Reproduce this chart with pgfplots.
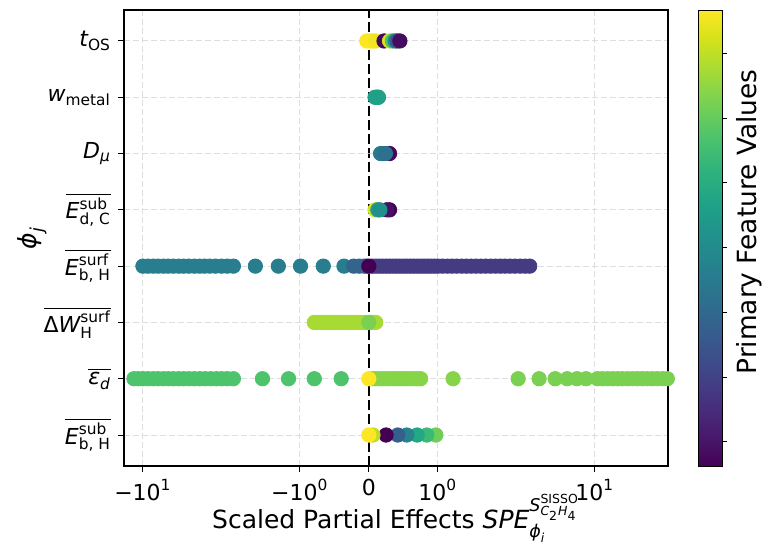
\documentclass[border=0pt]{standalone}
\usepackage{fontspec}
\setmainfont{DejaVu Sans}
\usepackage{amsmath}
\usepackage{pgfplots}
\pgfplotsset{compat=1.18}

\definecolor{gridc}{RGB}{211,211,211}
\newcommand{\vi}[1]{\text{\itshape #1}}
\newcommand{\vu}[1]{\text{#1}}

\pgfplotsset{
  dots/.style={scatter, only marks, mark=*, mark size=3.6pt,
    point meta=explicit,
    scatter/use mapped color={draw=mapped color, fill=mapped color}},
}

\begin{document}
\begin{tikzpicture}
\begin{axis}[
  name=ax, at={(0,0)}, anchor=south west,
  scale only axis, width=272pt, height=228pt,
  % symlog-like x axis, linear inside [-1,1]
  x coord trafo/.code={\pgfmathparse{0.44*min(max(#1,-1),1)+0.4342945*ln(max(#1,1))-0.4342945*ln(max(-(#1),1))}},
  x coord inv trafo/.code={\pgfmathparse{min(max(#1,-0.44),0.44)/0.44+exp(2.302585*(max(#1,0.44)-0.44))-exp(2.302585*(max(-(#1),0.44)-0.44))}},
  xmin=-13.2, xmax=29.3, ymin=-0.55, ymax=7.55,
  xtick={-10,-1,1,10},
  xticklabels={$\vu{−}\vu{10}^{\vu{1}}$, $\vu{−}\vu{10}^{\vu{0}}$, $\vu{10}^{\vu{0}}$, $\vu{10}^{\vu{1}}$},
  extra x ticks={0}, extra x tick labels={$\vu{0}$},
  extra x tick style={grid=none},
  ytick={0,1,2,3,4,5,6,7},
  yticklabels={
    {$\overline{\vi{E}^{\vu{sub}}_{\vu{b, H}}}$},
    {$\overline{\vi{ε}_{\vi{d}}}$},
    {$\overline{\vu{Δ}\vi{W}^{\vu{surf}}_{\vu{H}}}$},
    {$\overline{\vi{E}^{\vu{surf}}_{\vu{b, H}}}$},
    {$\overline{\vi{E}^{\vu{sub}}_{\vu{d, C}}}$},
    {$\vi{D}_{\vi{μ}}$},
    {$\vi{w}_{\vu{metal}}$},
    {$\vi{t}_{\vu{OS}}$}},
  tick pos=left, tick align=outside, major tick length=3pt,
  tick style={black, line width=0.5pt},
  axis line style={black, line width=0.6pt},
  grid=major,
  major grid style={draw=gridc, opacity=0.75, line width=0.5pt, dash pattern=on 3pt off 1.5pt},
  axis on top,
  tick label style={font=\fontsize{11}{13}\selectfont},
  label style={font=\fontsize{12.5}{15}\selectfont},
  xlabel={Scaled Partial Effects $\vi{SPE}_{\vi{ϕ}_{\vi{i}}}^{\vi{S}^{\vu{SISSO}}_{\vi{C}_{\vu{2}}\vi{H}_{\vu{4}}}}$},
  xlabel style={at={(axis description cs:0.5,0)}, anchor=base, yshift=-31.5pt},
  ylabel={$\vi{ϕ}_{\vi{j}}$},
  ylabel style={at={(axis description cs:0,0.5)}, anchor=center, yshift=46pt},
  colormap/viridis,
  point meta min=0, point meta max=1,
  colorbar,
  colorbar style={
    at={(parent axis.north east)}, anchor=north west, xshift=6.5pt,
    width=12pt,
    ytick={0.053,0.195,0.337,0.479,0.621,0.763,0.905},
    yticklabels={,,,,,,},
    ytick pos=right, tick align=outside, major tick length=2.5pt,
    ylabel={Primary Feature Values},
    ylabel style={at={(axis description cs:2.15,0.535)}, anchor=center,
      font=\fontsize{13.2}{16}\selectfont},
  },
]
% t_OS
\addplot[dots] table[meta=c] {
x y c
-0.03 7 1.0
0.02 7 1.0
0.06 7 1.0
0.10 7 0.98
0.22 7 0.02
0.30 7 0.95
0.34 7 0.72
0.38 7 0.48
0.41 7 0.28
0.45 7 0.03
};
% w_metal
\addplot[dots] table[meta=c] {
x y c
0.09 6 0.57
0.11 6 0.57
0.13 6 0.57
0.14 6 0.57
};
% D_mu
\addplot[dots] table[meta=c] {
x y c
0.30 5 0.02
0.17 5 0.42
0.20 5 0.40
0.24 5 0.37
};
% E_dC^sub
\addplot[dots] table[meta=c] {
x y c
0.09 4 0.95
0.30 4 0.00
0.26 4 0.04
0.13 4 0.55
0.16 4 0.50
};
% E_bH^surf
\addplot[dots] table[meta=c] {
x y c
-10.0 3 0.42
-9.3 3 0.42
-8.6 3 0.42
-8.0 3 0.42
-7.4 3 0.42
-6.9 3 0.42
-6.4 3 0.42
-5.9 3 0.42
-5.5 3 0.42
-5.1 3 0.42
-4.7 3 0.42
-4.35 3 0.42
-4.05 3 0.42
-3.75 3 0.42
-3.45 3 0.42
-3.15 3 0.42
-2.9 3 0.42
-2.65 3 0.42
-1.92 3 0.42
-1.37 3 0.42
-0.99 3 0.42
-0.66 3 0.42
-0.36 3 0.42
-0.22 3 0.32
-0.14 3 0.32
-0.07 3 0.32
-0.03 3 0.32
0.05 3 0.17
0.10 3 0.17
0.15 3 0.17
0.20 3 0.17
0.25 3 0.17
0.30 3 0.17
0.35 3 0.17
0.40 3 0.17
0.45 3 0.17
0.50 3 0.17
0.55 3 0.17
0.60 3 0.17
0.65 3 0.17
0.70 3 0.17
0.75 3 0.17
0.80 3 0.17
0.85 3 0.17
0.90 3 0.17
0.95 3 0.17
1.00 3 0.17
1.07 3 0.17
1.15 3 0.17
1.23 3 0.17
1.32 3 0.17
1.42 3 0.17
1.52 3 0.17
1.63 3 0.17
1.75 3 0.17
1.88 3 0.17
2.02 3 0.17
2.17 3 0.17
2.33 3 0.17
2.50 3 0.17
2.68 3 0.17
2.88 3 0.17
3.10 3 0.17
3.35 3 0.17
3.60 3 0.17
3.85 3 0.17
0.00 3 0.00
};
% Delta W_H^surf
\addplot[dots] table[meta=c] {
x y c
-0.79 2 0.87
-0.74 2 0.87
-0.69 2 0.87
-0.64 2 0.87
-0.59 2 0.87
-0.54 2 0.87
-0.49 2 0.87
-0.44 2 0.87
-0.39 2 0.87
-0.34 2 0.87
-0.29 2 0.87
-0.24 2 0.87
-0.19 2 0.87
-0.14 2 0.87
-0.09 2 0.87
-0.04 2 0.87
0.02 2 0.87
0.06 2 0.87
0.10 2 0.87
0.00 2 0.80
};
% eps_d
\addplot[dots] table[meta=c] {
x y c
-11.4 1 0.72
-10.7 1 0.72
-10.0 1 0.72
-9.3 1 0.72
-8.6 1 0.72
-8.0 1 0.72
-7.4 1 0.72
-6.9 1 0.72
-6.4 1 0.72
-5.9 1 0.72
-5.5 1 0.72
-5.1 1 0.72
-4.7 1 0.72
-4.35 1 0.72
-4.0 1 0.72
-3.7 1 0.72
-3.4 1 0.72
-3.15 1 0.72
-2.9 1 0.72
-2.65 1 0.72
-1.73 1 0.72
-1.18 1 0.72
-0.79 1 0.72
-0.40 1 0.72
0.05 1 0.82
0.10 1 0.82
0.15 1 0.82
0.20 1 0.82
0.25 1 0.82
0.30 1 0.82
0.35 1 0.82
0.40 1 0.82
0.45 1 0.82
0.50 1 0.82
0.55 1 0.82
0.60 1 0.82
0.65 1 0.82
0.70 1 0.82
0.75 1 0.82
1.25 1 0.82
3.25 1 0.80
4.42 1 0.80
5.59 1 0.80
6.67 1 0.80
7.70 1 0.80
8.80 1 0.80
10.4 1 0.80
11.2 1 0.80
12.1 1 0.80
13.0 1 0.80
14.0 1 0.80
15.0 1 0.80
16.2 1 0.80
17.4 1 0.80
18.7 1 0.80
20.1 1 0.80
21.6 1 0.80
23.2 1 0.80
25.0 1 0.80
27.0 1 0.80
29.0 1 0.80
31.0 1 0.80
0.00 1 1.00
};
% E_bH^sub
\addplot[dots] table[meta=c] {
x y c
0.97 0 0.78
0.84 0 0.68
0.70 0 0.60
0.55 0 0.45
0.42 0 0.30
0.25 0 0.00
0.06 0 0.90
0.00 0 1.00
};
\draw[black, line width=1.2pt, dash pattern=on 5pt off 2pt] (axis cs:0,-0.55) -- (axis cs:0,7.55);
\end{axis}
\pgfresetboundingbox
\path[use as bounding box] ([shift={(-62pt,-39pt)}]ax.south west) rectangle ([shift={(47pt,5pt)}]ax.north east);
\end{tikzpicture}
\end{document}
